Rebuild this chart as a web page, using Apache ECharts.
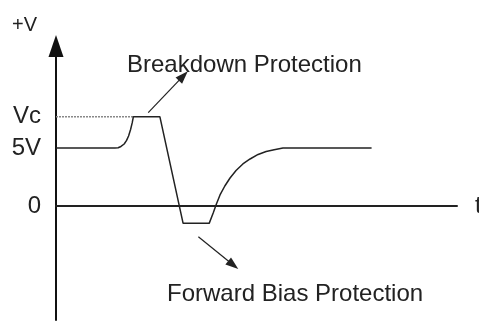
<!DOCTYPE html>
<html>
<head>
<meta charset="utf-8">
<script src="https://cdn.jsdelivr.net/npm/echarts@6/dist/echarts.min.js"></script>
<style>html,body{margin:0;padding:0;background:#fff;}#c{width:479px;height:325px;}</style>
</head>
<body>
<div id="c"></div>
<script>
// Waveform (time in arbitrary units, voltage in volts)
var waveT = [0, 14.7, 15.5, 16.2, 17.0, 17.6, 18.1, 18.6, 19.0, 19.3, 25.9, 31.7, 38.2, 39.2, 40.0, 40.9, 42.1, 43.4, 44.9, 46.6, 48.4, 50.4, 52.4, 54.4, 56.6, 78.7];
var waveV = [5, 5, 5.02, 5.13, 5.34, 5.65, 6.03, 6.59, 7.16, 7.7, 7.7, -1.5, -1.5, -0.6, 0.17, 0.95, 1.72, 2.41, 3.06, 3.62, 4.05, 4.44, 4.7, 4.85, 5, 5];
// Dotted reference level Vc
var refT = [0, 19.3];
var refV = [7.7, 7.7];
// Y tick values and labels
var yTickValues = [0, 5, 7.7];
var yTickLabels = ['0', '5V', 'Vc'];
// Annotation arrows: [t1, v1, t2, v2]
var breakdownArrow = [23.0, 8.04, 31.75, 11.21];
var forwardArrow = [35.5, -2.65, 44.2, -5.09];
var annotations = ['Breakdown Protection', 'Forward Bias Protection'];

function pairs(t, v) { return t.map(function (x, i) { return [x, v[i]]; }); }

var chart = echarts.init(document.getElementById('c'), null, {renderer: 'canvas'});
var FONT = 'Liberation Sans';
var TXT = '#222';

chart.setOption({
  animation: false,
  backgroundColor: '#fff',
  grid: {left: 56, right: 22, top: 46, bottom: 5, containLabel: false, outerBoundsMode: 'none'},
  xAxis: {
    type: 'value', min: 0, max: 100,
    name: 't', nameLocation: 'end', nameGap: 18,
    nameTextStyle: {fontFamily: FONT, fontSize: 24, color: TXT, verticalAlign: 'middle'},
    axisLine: {onZero: true, lineStyle: {color: '#222', width: 2}},
    axisTick: {show: false}, axisLabel: {show: false}, splitLine: {show: false}
  },
  yAxis: {
    type: 'value', min: -9.83, max: 13.79,
    name: '+V', nameLocation: 'end', nameGap: 21,
    nameTextStyle: {fontFamily: FONT, fontSize: 20, color: TXT, align: 'right', verticalAlign: 'middle', padding: [0, 19, 0, 0]},
    axisLine: {show: true, symbol: ['none', 'triangle'], symbolSize: [15, 22], lineStyle: {color: '#111', width: 2}},
    axisTick: {show: false},
    splitLine: {show: false},
    axisLabel: {
      customValues: yTickValues, margin: 15,
      fontFamily: FONT, fontSize: 24, color: TXT,
      formatter: function (v) { var i = yTickValues.indexOf(v); return i >= 0 ? yTickLabels[i] : ''; }
    }
  },
  series: [
    {
      type: 'line', data: pairs(waveT, waveV), showSymbol: false, symbol: 'none',
      lineStyle: {color: '#222', width: 1.5}, z: 3
    },
    {
      type: 'line', data: pairs(refT, refV), showSymbol: false, symbol: 'none',
      lineStyle: {color: '#888', width: 1.5, type: [2, 1]}, z: 2,
      markLine: {
        silent: true, symbol: ['none', 'triangle'], symbolSize: [9, 13],
        label: {show: false},
        lineStyle: {color: '#222', width: 1.2, type: 'solid'},
        data: [
          [{coord: [breakdownArrow[0], breakdownArrow[1]]}, {coord: [breakdownArrow[2], breakdownArrow[3]]}],
          [{coord: [forwardArrow[0], forwardArrow[1]]}, {coord: [forwardArrow[2], forwardArrow[3]]}]
        ]
      }
    }
  ],
  graphic: [
    {type: 'text', x: 127, y: 65, style: {text: annotations[0], font: '24px "Liberation Sans"', fill: TXT, verticalAlign: 'middle'}},
    {type: 'text', x: 167, y: 294, style: {text: annotations[1], font: '24px "Liberation Sans"', fill: TXT, verticalAlign: 'middle'}}
  ]
});
</script>
</body>
</html>
